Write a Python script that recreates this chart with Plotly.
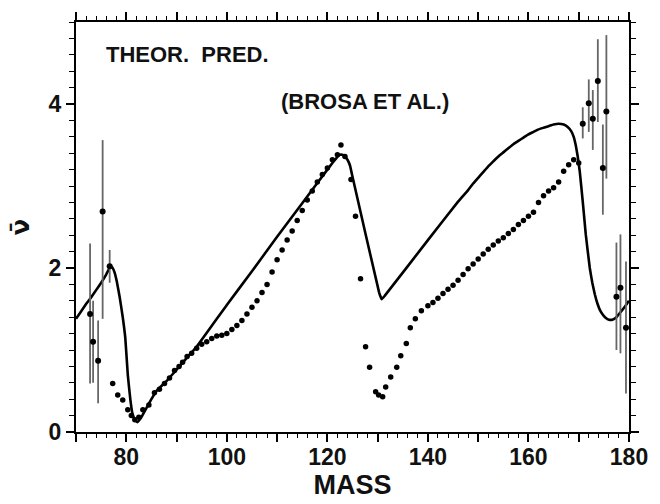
import plotly.graph_objects as go

# Measured average neutron multiplicity vs. fragment mass (points)
mass_pts = [77.3, 78.3, 79.3, 80.3, 81.0, 81.7, 82.5, 83.3, 84.5, 85.6,
            86.6, 87.6, 88.6, 89.6, 90.5, 91.2, 92.1, 93.0, 94.0, 95.0,
            96.0, 97.0, 98.0, 99.0, 100.0, 101.0, 102.0, 103.0, 104.0, 105.0,
            106.0, 107.0, 108.0, 109.0, 110.0, 111.0, 112.0, 113.0, 114.0, 115.0,
            116.0, 117.0, 118.0, 119.0, 120.0, 121.0, 122.0, 122.7, 123.5, 124.7,
            125.6, 126.6, 127.6, 128.4, 129.6, 130.2, 131.0, 131.6, 132.6, 133.8,
            134.6, 135.7, 136.5, 137.5, 138.7, 140.0, 141.0, 142.0, 143.0, 144.0,
            145.0, 146.0, 147.0, 148.0, 149.0, 150.0, 151.0, 152.0, 153.0, 154.0,
            155.0, 156.0, 157.0, 158.0, 159.0, 160.0, 161.0, 162.0, 163.0, 164.0,
            165.0, 166.0, 167.0, 168.0, 169.0, 170.0]
nu_pts = [0.59, 0.45, 0.39, 0.27, 0.20, 0.15, 0.18, 0.27, 0.33, 0.48,
          0.52, 0.59, 0.66, 0.75, 0.80, 0.85, 0.92, 0.96, 1.02, 1.07,
          1.10, 1.14, 1.17, 1.18, 1.20, 1.25, 1.30, 1.36, 1.44, 1.52,
          1.60, 1.70, 1.80, 1.95, 2.10, 2.22, 2.34, 2.45, 2.58, 2.70,
          2.83, 2.94, 3.05, 3.14, 3.22, 3.32, 3.38, 3.50, 3.36, 3.08,
          2.63, 1.87, 1.04, 0.79, 0.49, 0.45, 0.43, 0.55, 0.67, 0.79,
          0.93, 1.08, 1.27, 1.38, 1.48, 1.54, 1.58, 1.63, 1.69, 1.74,
          1.79, 1.85, 1.92, 1.99, 2.05, 2.11, 2.17, 2.23, 2.28, 2.33,
          2.37, 2.42, 2.47, 2.53, 2.58, 2.63, 2.68, 2.80, 2.88, 2.94,
          2.98, 3.05, 3.18, 3.26, 3.32, 3.28]

# Low-yield wings with large uncertainties
mass_err = [72.8, 73.4, 74.4, 75.3, 76.7, 170.8, 172.0, 172.8, 173.8, 174.8,
            175.5, 177.5, 178.3, 179.4]
nu_err = [1.44, 1.10, 0.87, 2.69, 2.02, 3.76, 4.01, 3.82, 4.28, 3.22,
          3.91, 1.65, 1.76, 1.27]
err_plus = [0.86, 0.50, 0.49, 0.87, 0.20, 0.20, 0.29, 0.35, 0.51, 0.53,
            0.93, 0.66, 0.65, 0.81]
err_minus = [0.85, 0.50, 0.52, 1.31, 0.20, 0.18, 0.35, 0.38, 0.50, 0.57,
             0.82, 0.65, 0.80, 0.80]

# Theoretical prediction (Brosa et al.)
mass_th = [70.0, 71.0, 72.0, 73.0, 74.0, 75.0, 76.0, 76.5, 76.9, 77.3,
           77.7, 78.1, 78.7, 79.3, 79.8, 80.3, 80.8, 81.2, 81.7, 82.2,
           83.0, 84.0, 85.0, 86.0, 88.0, 90.0, 92.0, 94.0, 100.0, 105.0,
           110.0, 115.0, 120.0, 121.0, 121.8, 122.4, 123.0, 123.5, 124.0, 124.5,
           124.9, 130.3, 130.8, 131.4, 140.0, 146.0, 147.0, 148.0, 149.0, 150.0,
           151.0, 152.0, 153.0, 154.0, 155.0, 156.0, 157.0, 158.0, 159.0, 160.0,
           161.0, 162.0, 163.0, 164.0, 165.0, 166.0, 167.0, 167.8, 168.5, 169.0,
           169.4, 169.8, 170.2, 170.8, 171.4, 172.2, 172.7, 173.2, 173.7, 174.2,
           174.8, 175.4, 176.0, 176.7, 177.5, 178.3, 179.2, 180.0]
nu_th = [1.38, 1.47, 1.56, 1.64, 1.73, 1.82, 1.92, 1.98, 2.02, 2.00,
         1.94, 1.84, 1.64, 1.40, 1.15, 0.70, 0.40, 0.23, 0.15, 0.12,
         0.18, 0.29, 0.40, 0.50, 0.62, 0.76, 0.90, 1.04, 1.55, 1.96,
         2.38, 2.79, 3.20, 3.28, 3.34, 3.38, 3.38, 3.36, 3.32, 3.25,
         3.14, 1.70, 1.62, 1.66, 2.34, 2.81, 2.88, 2.95, 3.03, 3.10,
         3.17, 3.24, 3.30, 3.36, 3.41, 3.46, 3.51, 3.55, 3.59, 3.63,
         3.66, 3.69, 3.71, 3.73, 3.75, 3.76, 3.75, 3.72, 3.67, 3.60,
         3.50, 3.36, 3.18, 2.81, 2.41, 2.00, 1.82, 1.68, 1.57, 1.49,
         1.43, 1.39, 1.37, 1.37, 1.40, 1.46, 1.53, 1.60]

x_ticks = [70, 80, 90, 100, 110, 120, 130, 140, 150, 160, 170, 180]
x_labels = ["", "80", "", "100", "", "120", "", "140", "", "160", "", "180"]
y_ticks = [0, 2, 4]
y_labels = ["0", "2", "4"]

FONT = "Liberation Sans"

fig = go.Figure()

fig.add_trace(go.Scatter(
    x=mass_th, y=nu_th, mode="lines",
    line=dict(color="black", width=2.6, shape="spline", smoothing=0.3),
    hoverinfo="skip", showlegend=False,
))

fig.add_trace(go.Scatter(
    x=mass_err, y=nu_err, mode="markers",
    marker=dict(color="black", size=6),
    error_y=dict(type="data", symmetric=False, array=err_plus,
                 arrayminus=err_minus, color="#666666", thickness=1.8, width=0),
    showlegend=False,
))

fig.add_trace(go.Scatter(
    x=mass_pts, y=nu_pts, mode="markers",
    marker=dict(color="black", size=5.5),
    showlegend=False,
))

fig.add_annotation(x=0.05, y=0.92, xref="paper", yref="paper",
                   text="<b>THEOR.  PRED.</b>", showarrow=False,
                   xanchor="left", yanchor="middle",
                   font=dict(family=FONT, size=22, color="#111"))
fig.add_annotation(x=0.367, y=0.805, xref="paper", yref="paper",
                   text="<b>(BROSA ET AL.)</b>", showarrow=False,
                   xanchor="left", yanchor="middle",
                   font=dict(family=FONT, size=22, color="#111"))

axis_common = dict(
    showline=True, linecolor="black", linewidth=2.2, mirror="allticks",
    ticks="outside", ticklen=8, tickwidth=1.8, tickcolor="black",
    showgrid=False, zeroline=False,
    tickfont=dict(family=FONT, size=23, color="#111", weight="bold"),
)

fig.update_xaxes(
    range=[70, 180], tickmode="array", tickvals=x_ticks, ticktext=x_labels,
    ticklabelstandoff=-5,
    minor=dict(dtick=2, tick0=70, ticks="outside", ticklen=4,
               tickwidth=1.4, tickcolor="black", showgrid=False),
    title=dict(text="<b>MASS</b>", font=dict(family=FONT, size=27, color="#111"),
               standoff=2),
    **axis_common,
)
fig.update_yaxes(
    range=[0, 5], tickmode="array", tickvals=y_ticks, ticktext=y_labels,
    minor=dict(dtick=0.2, tick0=0, ticks="outside", ticklen=5,
               tickwidth=1.4, tickcolor="black", showgrid=False),
    title=dict(text="<b>\u03bd\u0304</b>", font=dict(family="DejaVu Sans", size=24, color="#111"),
               standoff=12),
    **axis_common,
)

fig.update_layout(
    width=660, height=504,
    margin=dict(l=76, r=28, t=20, b=72),
    plot_bgcolor="white", paper_bgcolor="white",
    showlegend=False,
)

fig.write_html("out.html")
